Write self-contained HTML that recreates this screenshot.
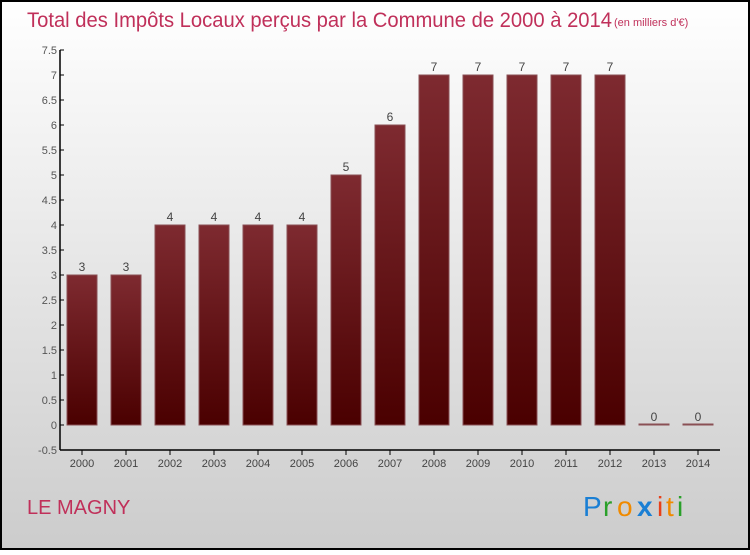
<!DOCTYPE html>
<html><head><meta charset="utf-8"><style>
body{margin:0}
svg text{font-family:"Liberation Sans","DejaVu Sans",sans-serif}
</style></head><body>
<svg id="chart" width="750" height="550" xmlns="http://www.w3.org/2000/svg">
<defs>
<linearGradient id="bg" x1="0" y1="0" x2="0" y2="1"><stop offset="0" stop-color="#ffffff"/><stop offset="1" stop-color="#cccccc"/></linearGradient>
<linearGradient id="bar" x1="0" y1="0" x2="0" y2="1"><stop offset="0" stop-color="#7e2a30"/><stop offset="1" stop-color="#4a0000"/></linearGradient>
</defs>
<rect x="1" y="1" width="748" height="548" fill="url(#bg)" stroke="#000" stroke-width="2"/>
<text x="27" y="27" font-size="21" fill="#c0305a" textLength="585" lengthAdjust="spacingAndGlyphs">Total des Impôts Locaux perçus par la Commune de 2000 à 2014</text>
<text x="614" y="26" font-size="11" fill="#c0305a">(en milliers d'€)</text>
<text x="27" y="514" font-size="20" fill="#c0305a">LE MAGNY</text>
<g font-size="28">
<text x="583" y="516" fill="#1a7fd4">P</text><text x="603" y="516" fill="#2aa02a">r</text><text x="617" y="516" fill="#f08a00">o</text><text x="637" y="516" fill="#1a7fd4" font-weight="bold">x</text><text x="657" y="516" fill="#e8401a">i</text><text x="666" y="516" fill="#f08a00">t</text><text x="677" y="516" fill="#2aa02a">i</text>
</g>
<g id="axes"></g>
<g id="bars"></g>
</svg>
<script>
const years=["2000","2001","2002","2003","2004","2005","2006","2007","2008","2009","2010","2011","2012","2013","2014"];
const values=[3,3,4,4,4,4,5,6,7,7,7,7,7,0,0];
const yTicks=[-0.5,0,0.5,1,1.5,2,2.5,3,3.5,4,4.5,5,5.5,6,6.5,7,7.5];
const NS="http://www.w3.org/2000/svg";
const y=v=>425-v*50;
const x=i=>82+i*44;
const axes=document.getElementById('axes'),bars=document.getElementById('bars');
function el(t,a,p){const e=document.createElementNS(NS,t);for(const k in a)e.setAttribute(k,a[k]);p.appendChild(e);return e;}
const ya=el('line',{x1:60,y1:50,x2:60,y2:450,stroke:'#000','stroke-width':1.5},axes);


const xa=el('line',{x1:60,y1:450,x2:720,y2:450,stroke:'#000','stroke-width':1.5},axes);


yTicks.forEach(v=>{
 el('line',{x1:60,y1:y(v),x2:64,y2:y(v),stroke:'#000'},axes);
 const t=el('text',{x:57,y:y(v)+4,'font-size':11,fill:'#555','text-anchor':'end'},axes);
 t.textContent=String(v);
 
 
});
years.forEach((yr,i)=>{
 el('line',{x1:x(i),y1:450,x2:x(i),y2:455,stroke:'#000'},axes);
 const t=el('text',{x:x(i),y:467,'font-size':11,fill:'#444','text-anchor':'middle'},axes);
 t.textContent=yr;
 
 
 const v=values[i];
 const h=Math.max(y(0)-y(v),1);
 const r=el('rect',{x:x(i)-15,y:y(0)-h,width:30,height:h,fill:'url(#bar)',stroke:'#8a5055','stroke-width':1},bars);
 
 
 const l=el('text',{x:x(i),y:y(v)-4,'font-size':12,fill:'#444','text-anchor':'middle'},bars);
 l.textContent=String(v);
 
 
});
</script>
</body></html>
